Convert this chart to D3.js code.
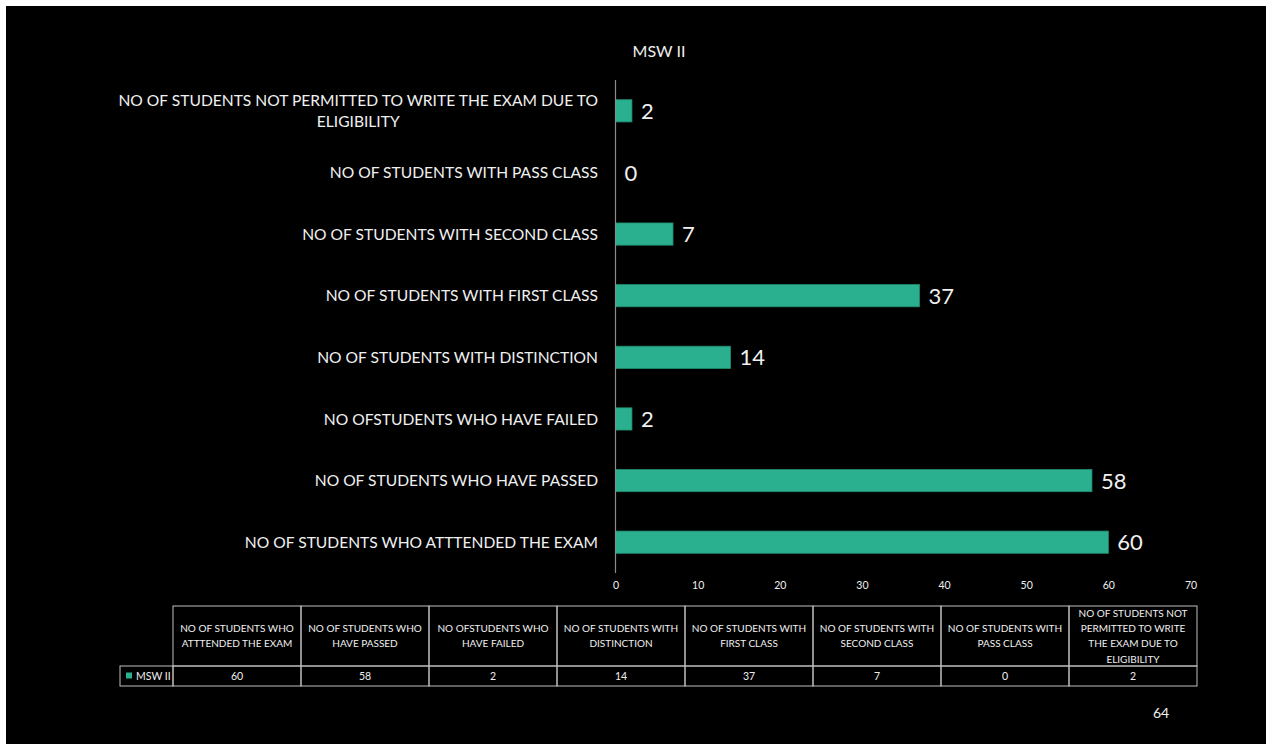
<!DOCTYPE html>
<html><head><meta charset="utf-8">
<script src="https://cdn.jsdelivr.net/npm/d3@7"></script>
<style>
html,body{margin:0;padding:0;background:#fff;}
svg{display:block;}
text{font-family:Lato,"Open Sans",sans-serif;}
</style></head>
<body>
<svg id="c" width="1266" height="744"></svg>
<script>
const title = "MSW II";
const seriesName = "MSW II";
const categories = [
  "NO OF STUDENTS WHO ATTTENDED THE EXAM",
  "NO OF STUDENTS WHO HAVE PASSED",
  "NO OFSTUDENTS WHO HAVE FAILED",
  "NO OF STUDENTS WITH DISTINCTION",
  "NO OF STUDENTS WITH FIRST CLASS",
  "NO OF STUDENTS WITH SECOND CLASS",
  "NO OF STUDENTS WITH PASS CLASS",
  "NO OF STUDENTS NOT PERMITTED TO WRITE THE EXAM DUE TO ELIGIBILITY"
];
const values = [60, 58, 2, 14, 37, 7, 0, 2];
const xTicks = [0, 10, 20, 30, 40, 50, 60, 70];
const pageNumber = "64";

const svg = d3.select("#c");
const W = 1266, H = 744;
const barColor = "#2bb08f";
const textColor = "#f0f0f0";

svg.append("rect").attr("x", 6).attr("y", 6).attr("width", W - 6).attr("height", H - 6).attr("fill", "#000");

const x = d3.scaleLinear().domain([0, 70]).range([615.5, 1190.5]);
const y = d3.scaleBand().domain(categories.slice().reverse()).range([80, 573]).paddingInner(0.64).paddingOuter(0.32);

// title
svg.append("text").attr("x", 659).attr("y", 57).attr("text-anchor", "middle")
  .attr("fill", textColor).attr("font-size", 16).text(title);

// bars
svg.append("g").selectAll("rect").data(categories).join("rect")
  .attr("x", x(0)).attr("y", d => y(d))
  .attr("width", (d, i) => x(values[i]) - x(0))
  .attr("height", y.bandwidth())
  .attr("fill", barColor).attr("stroke", "#1f8f73").attr("stroke-width", 0.8);

// value labels
svg.append("g").selectAll("text").data(categories).join("text")
  .attr("x", (d, i) => x(values[i]) + 9)
  .attr("y", d => y(d) + y.bandwidth() / 2)
  .attr("dy", "0.37em")
  .attr("fill", textColor).attr("font-size", 22)
  .text((d, i) => values[i]);

// vertical axis line
svg.append("line").attr("x1", x(0)).attr("x2", x(0)).attr("y1", 80).attr("y2", 573)
  .attr("stroke", "#8c8c8c").attr("stroke-width", 1.2);

// x axis ticks
const xAxis = d3.axisBottom(x).tickValues(xTicks).tickSize(0).tickPadding(0);
const gx = svg.append("g").attr("transform", "translate(0,582)").call(xAxis);
gx.select(".domain").remove();
gx.selectAll("text").attr("fill", textColor).attr("font-size", 10.5).attr("dy", "0.71em")
  .style("font-family", "Lato, 'Open Sans', sans-serif");

// wrapping helper
const measurer = svg.append("text").attr("visibility", "hidden");
function measure(s, size) {
  measurer.attr("font-size", size).text(s);
  return measurer.node().getComputedTextLength();
}
function wrap(s, size, maxW) {
  const words = s.split(/\s+/);
  const lines = [];
  let cur = "";
  for (const w of words) {
    const t = cur ? cur + " " + w : w;
    if (measure(t, size) > maxW && cur) { lines.push(cur); cur = w; }
    else cur = t;
  }
  if (cur) lines.push(cur);
  return lines;
}

// category labels
const labelSize = 15.6, labelRight = 598, labelMax = 492, lh = 21;
categories.forEach(c => {
  const lines = wrap(c, labelSize, labelMax);
  const widths = lines.map(l => measure(l, labelSize));
  const bw = d3.max(widths);
  const cx = labelRight - bw / 2;
  const cy = y(c) + y.bandwidth() / 2;
  const t = svg.append("text").attr("fill", textColor).attr("font-size", labelSize)
    .attr("text-anchor", "middle");
  lines.forEach((l, i) => {
    t.append("tspan").attr("x", cx)
      .attr("y", cy + (i - (lines.length - 1) / 2) * lh)
      .attr("dy", "0.36em").text(l);
  });
});

// data table
const tX0 = 173, tX1 = 1197, legX = 120;
const tY0 = 606, tY1 = 666, tY2 = 686;
const colW = (tX1 - tX0) / categories.length;
const tbl = svg.append("g");
const lineColor = "#bfbfbf";
const tfs = 10, tlh = 15.3;
categories.forEach((c, i) => {
  const cx0 = tX0 + i * colW;
  tbl.append("rect").attr("x", cx0).attr("y", tY0).attr("width", colW).attr("height", tY1 - tY0)
    .attr("fill", "none").attr("stroke", lineColor).attr("stroke-width", 1);
  tbl.append("rect").attr("x", cx0).attr("y", tY1).attr("width", colW).attr("height", tY2 - tY1)
    .attr("fill", "none").attr("stroke", lineColor).attr("stroke-width", 1);
  const lines = wrap(c, tfs, colW - 6);
  const mid = (tY0 + tY1) / 2;
  const t = tbl.append("text").attr("fill", textColor).attr("font-size", tfs).attr("text-anchor", "middle");
  lines.forEach((l, j) => {
    t.append("tspan").attr("x", cx0 + colW / 2)
      .attr("y", mid + (j - (lines.length - 1) / 2) * tlh).attr("dy", "0.36em").text(l);
  });
  tbl.append("text").attr("x", cx0 + colW / 2).attr("y", (tY1 + tY2) / 2).attr("dy", "0.36em")
    .attr("text-anchor", "middle").attr("fill", textColor).attr("font-size", 10.5).text(values[i]);
});
tbl.append("rect").attr("x", legX).attr("y", tY1).attr("width", tX0 - legX).attr("height", tY2 - tY1)
  .attr("fill", "none").attr("stroke", lineColor).attr("stroke-width", 1);
tbl.append("rect").attr("x", 126).attr("y", 672.5).attr("width", 6).attr("height", 6).attr("fill", barColor);
tbl.append("text").attr("x", 136).attr("y", (tY1 + tY2) / 2).attr("dy", "0.36em")
  .attr("fill", textColor).attr("font-size", 10.5).text(seriesName);

// page number
svg.append("text").attr("x", 1161).attr("y", 713).attr("dy", "0.36em").attr("text-anchor", "middle")
  .attr("fill", textColor).attr("font-size", 14).text(pageNumber);
measurer.remove();
</script>
</body></html>
